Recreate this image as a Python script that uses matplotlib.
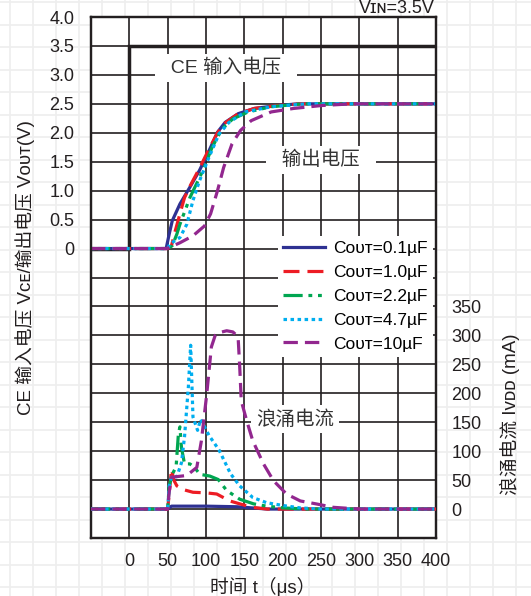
import numpy as np
import matplotlib.pyplot as plt

plt.rcParams['font.family'] = ['Liberation Sans', 'Noto Sans CJK SC', 'DejaVu Sans']
plt.rcParams['font.size'] = 12.5

# ---- data ----
ce_t = [-50, 0, 0, 400]
ce_v = [0, 0, 3.5, 3.5]

v01_t = [-50, 48, 52, 56, 66, 79, 91.5, 104, 115, 125, 142, 163, 193, 220, 400]
v01_v = [0, 0, 0.25, 0.48, 0.77, 1.06, 1.35, 1.69, 2.01, 2.18, 2.33, 2.42, 2.47, 2.5, 2.5]

v10_t = [-50, 50, 55, 60, 66, 72, 80, 92, 104, 115, 125, 142, 163, 193, 225, 400]
v10_v = [0, 0, 0.05, 0.31, 0.6, 0.88, 1.1, 1.4, 1.72, 2.0, 2.17, 2.33, 2.42, 2.47, 2.5, 2.5]

v22_t = [-50, 50, 56, 62, 66, 79, 96, 108, 121, 135, 155, 185, 225, 400]
v22_v = [0, 0, 0.05, 0.25, 0.42, 0.88, 1.35, 1.75, 2.07, 2.24, 2.36, 2.45, 2.5, 2.5]

v47_t = [-50, 50, 53, 66, 75, 83, 91.5, 104, 117, 130, 151, 185, 230, 400]
v47_v = [0, 0, 0.08, 0.19, 0.42, 0.83, 1.17, 1.58, 1.98, 2.18, 2.36, 2.45, 2.5, 2.5]

v100_t = [-50, 49, 66, 83, 98, 106, 115, 123, 134, 145, 159, 185, 214, 250, 290, 400]
v100_v = [0, 0, 0.1, 0.22, 0.39, 0.6, 1.0, 1.4, 1.81, 2.04, 2.21, 2.36, 2.42, 2.47, 2.5, 2.5]

# inrush current (mA)
i01_t = [-50, 50, 55, 100, 140, 160, 180, 400]
i01_i = [0, 0, 5, 5, 4, 2, 0, 0]

i10_t = [-50, 50, 53, 55, 58, 62, 66, 72, 83, 100, 114, 131, 144, 160, 180, 400]
i10_i = [0, 0, 40, 69, 50, 40, 37, 33, 29, 28, 26, 14, 9, 3, 0, 0]

i22_t = [-50, 50, 52, 56, 61, 64, 66, 68, 72, 79, 85, 92, 105, 116, 127, 144, 162, 179, 201, 230, 400]
i22_i = [0, 0, 40, 60, 73, 130, 142, 106, 78, 78, 72, 60, 57, 51, 32, 17, 9, 5, 2, 0, 0]

i47_t = [-50, 50, 52, 55, 62, 68, 72, 77, 80, 83, 89, 93, 104, 117, 132, 144, 161, 179, 201, 223, 250, 400]
i47_i = [0, 0, 40, 55, 56, 80, 125, 211, 283, 159, 136, 155, 127, 102, 61, 40, 20, 11, 6, 2, 0, 0]

i100_t = [-50, 50, 52, 55, 75, 88, 94, 101, 107, 112, 118, 127, 135, 140, 142, 144, 146, 153, 161,
          175, 188, 205, 223, 245, 266, 300, 400]
i100_i = [0, 0, 30, 55, 58, 72, 118, 199, 280, 300, 305, 308, 306, 300, 294, 245, 187, 153, 118,
          78, 49, 26, 14, 8.6, 3, 0, 0]

labels = ['Cᴏᴜᴛ=0.1µF', 'Cᴏᴜᴛ=1.0µF', 'Cᴏᴜᴛ=2.2µF', 'Cᴏᴜᴛ=4.7µF', 'Cᴏᴜᴛ=10µF']
colors = ['#2e3192', '#ed1c24', '#00a651', '#00aeef', '#92278f']
styles = ['-', (0, (5, 2.5)), (0, (6, 1.8, 1.2, 1.8, 1.2, 1.8)), (0, (1.1, 1.1)), (0, (4.5, 2.2))]

x_ticks = np.arange(-50, 401, 50)
v_ticks = np.arange(-5, 4.01, 0.5)
i_ticks = np.arange(0, 351, 50)

black = '#231f20'

fig = plt.figure(figsize=(5.31, 5.96), dpi=100)

# faint graph-paper background
bg = fig.add_axes([0, 0, 1, 1], zorder=-10)
bg.set_xlim(0, 531)
bg.set_ylim(596, 0)
bg.axis('off')
for gx in np.arange(10, 531, 23):
    bg.axvline(gx, color='#eeeeee', lw=1.2)
for gy in np.arange(2, 596, 22.5):
    bg.axhline(gy, color='#eeeeee', lw=1.2)

ax = fig.add_axes([91 / 531, 1 - 538 / 596, 345 / 531, 521 / 596])
ax.set_facecolor('white')

ax.plot(ce_t, ce_v, color=black, lw=2.5, solid_joinstyle='miter', zorder=4)
volt = [(v01_t, v01_v), (v10_t, v10_v), (v22_t, v22_v), (v47_t, v47_v), (v100_t, v100_v)]
for (t, v), c, ls in zip(volt, colors, styles):
    ax.plot(t, v, color=c, ls=ls, lw=2.3, zorder=4)

ax.set_xlim(-50, 400)
ax.set_ylim(-5, 4)
ax.set_xticks(x_ticks)
ax.set_xticklabels(['' if x < 0 else str(x) for x in x_ticks])
ax.set_yticks(v_ticks)
ax.set_yticklabels(['' if v < 0 else ('0' if v == 0 else f'{v:.1f}') for v in v_ticks])
ax.grid(True, color=black, lw=1.2)
ax.tick_params(length=0, labelsize=13, colors=black)
ax.tick_params(axis='y', pad=12)
ax.tick_params(axis='x', pad=11)
for s in ax.spines.values():
    s.set_linewidth(1.6)
    s.set_color(black)

ax.text(126, 3.12, '  CE 输入电压  ', ha='center', va='center', fontsize=14, color='#333333',
        bbox=dict(boxstyle='square,pad=0.25', fc='white', ec='none'), zorder=3)
ax.text(250, 1.53, '  输出电压  ', ha='center', va='center', fontsize=14, color='#333333',
        bbox=dict(boxstyle='square,pad=0.25', fc='white', ec='none'), zorder=3)

ax2 = ax.twinx()
ax2.set_ylim(-50, 850)
ax2.set_yticks(i_ticks)
ax2.set_yticklabels([str(i) for i in i_ticks])
ax2.tick_params(length=0, pad=11, labelsize=13, colors=black)
for s in ax2.spines.values():
    s.set_linewidth(1.6)
    s.set_color(black)

curr = [(i01_t, i01_i), (i10_t, i10_i), (i22_t, i22_i), (i47_t, i47_i), (i100_t, i100_i)]
handles = []
for (t, i), c, ls, lab in zip(curr, colors, styles, labels):
    h, = ax2.plot(t, i, color=c, ls=ls, lw=2.3, label=lab, zorder=4)
    handles.append(h)

ax2.text(216, 155, '浪涌电流', ha='center', va='center', fontsize=14, color='#333333',
         bbox=dict(boxstyle='square,pad=0.25', fc='white', ec='none'), zorder=3)

leg = ax2.legend(handles=handles, loc='upper right', bbox_to_anchor=(0.99, 0.58),
                 frameon=True, framealpha=1, edgecolor='none', fancybox=False,
                 handlelength=2.4, labelspacing=0.5, handletextpad=0.45,
                 borderpad=0.3, borderaxespad=0, fontsize=12.5)
leg.get_frame().set_facecolor('white')

fig.text(435 / 531, 1 - 13 / 596, 'Vɪɴ=3.5V', ha='right', va='baseline', fontsize=13, color=black)
fig.text(25 / 531, 1 - 268 / 596, 'CE 输入电压 Vᴄᴇ/输出电压 Vᴏᴜᴛ(V)', rotation=90,
         ha='center', va='center', fontsize=13.5, color=black)
fig.text(510 / 531, 1 - 414 / 596, '浪涌电流 Iᴠᴅᴅ (mA)', rotation=90,
         ha='center', va='center', fontsize=13.5, color=black)
fig.text(263 / 531, 1 - 587 / 596, '时间 t（μs）', ha='center', va='center', fontsize=13.5, color=black)

fig.savefig('out.png', dpi=100)
